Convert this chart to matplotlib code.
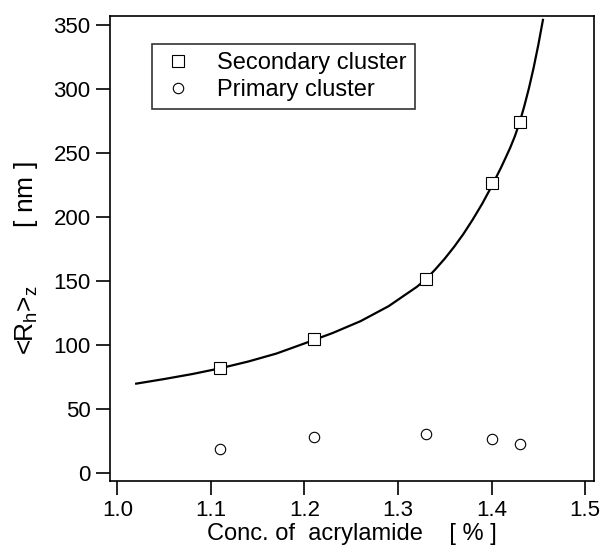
import matplotlib
matplotlib.use("Agg")
import matplotlib.pyplot as plt

plt.rcParams['font.family'] = ['Liberation Sans', 'DejaVu Sans']

# Data
conc_secondary = [1.11, 1.21, 1.33, 1.40, 1.43]
rh_secondary = [82, 105, 152, 227, 274]
conc_primary = [1.11, 1.21, 1.33, 1.40, 1.43]
rh_primary = [19, 28, 31, 27, 23]

# Fitted curve
curve_x = [1.02, 1.05, 1.08, 1.11, 1.14, 1.17, 1.20, 1.23, 1.26, 1.29, 1.32,
           1.33, 1.34, 1.35, 1.36, 1.37, 1.38, 1.39, 1.40, 1.41, 1.415, 1.42,
           1.425, 1.43, 1.435, 1.44, 1.445, 1.45, 1.455]
curve_y = [70.0, 73.6, 77.5, 82.0, 87.3, 93.5, 101.4, 109.5, 118.8, 130.5, 145.5,
           151.5, 159.3, 167.6, 176.8, 186.9, 198.2, 210.4, 223.9, 238.4, 246.2, 254.2,
           263.2, 273.8, 286.5, 300.6, 316.5, 334.3, 354.0]

xticks = [1.0, 1.1, 1.2, 1.3, 1.4, 1.5]
yticks = [0, 50, 100, 150, 200, 250, 300, 350]

fig = plt.figure(figsize=(6.02, 5.48), dpi=100)
ax = fig.add_axes([110/602, 1 - 481/548, (594-110)/602, (481-15.5)/548])

ax.plot(curve_x, curve_y, color='black', lw=1.6, zorder=2)
ax.plot(conc_secondary, rh_secondary, linestyle='none', marker='s', ms=8,
        mfc='white', mec='black', mew=0.8, label='Secondary cluster', zorder=3)
ax.plot(conc_primary, rh_primary, linestyle='none', marker='o', ms=7.5,
        mfc='white', mec='black', mew=0.8, label='Primary cluster', zorder=3)

ax.set_xlim(0.992, 1.5096)
ax.set_ylim(-6, 357.4)
ax.set_xticks(xticks)
ax.set_xticklabels([f"{v:.1f}" for v in xticks])
ax.set_yticks(yticks)
ax.tick_params(direction='out', length=10, width=1.2, labelsize=16, pad=4, colors='black')
for s in ax.spines.values():
    s.set_linewidth(1.2)

ax.set_xlabel('Conc. of  acrylamide    [ % ]', fontsize=17, labelpad=1)
ax.set_ylabel(r'<R$_\mathregular{h}$>$_\mathregular{z}$        [ nm ]', fontsize=19)
ax.yaxis.set_label_coords(-0.145, 0.479)

leg = ax.legend(loc='upper left', bbox_to_anchor=((152-110)/484, 1 - (44-15.5)/465.5),
                fontsize=17, frameon=True, fancybox=False, edgecolor='black',
                handletextpad=0.9, borderpad=0.35, labelspacing=0.2, handlelength=1.5,
                borderaxespad=0)
leg.get_frame().set_linewidth(1.2)

fig.savefig('out.png', dpi=100)
